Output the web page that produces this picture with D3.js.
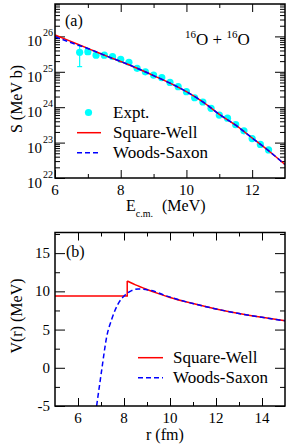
<!DOCTYPE html>
<html>
<head>
<meta charset="utf-8">
<script src="https://cdn.jsdelivr.net/npm/d3@7"></script>
<style>
    body { margin: 0; background: #fff; }
    svg text { font-family: "Liberation Serif", "DejaVu Serif", "Times New Roman", serif; fill: #000; }
</style>
</head>
<body>
<svg id="vis" width="287" height="445" font-family="Liberation Serif, DejaVu Serif, serif"></svg>
<script>
// panel (a): measured S-factor
const EXPT_E = [6.75, 7.0, 7.25, 7.5, 7.75, 8.0, 8.25, 8.5, 8.75, 9.0, 9.25, 9.5,
    9.75, 10.0, 10.25, 10.5, 10.75, 11.0, 11.25, 11.5, 11.75, 12.0, 12.25, 12.5]
const EXPT_S = [3.55e25, 3.7e25, 2.95e25, 2.95e25, 2.7e25, 2.25e25, 1.85e25, 1.25e25,
    1.0e25, 8.1e24, 6.8e24, 5.0e24, 3.8e24, 2.75e24, 1.85e24, 1.4e24, 9.3e23, 6.0e23,
    4.9e23, 3.2e23, 2.15e23, 1.3e23, 8.9e22, 6.2e22]
const EXPT_LO = [1.4e25, 3.1e25]
const EXPT_HI = [5.5e25, 4.4e25]

// panel (a): model curves
const CURVE_E = [6.0, 6.5, 7.0, 7.5, 8.0, 8.5, 9.0, 9.5, 10.0, 10.5, 11.0, 11.5, 12.0, 12.5, 13.0]
const SW_S = [1.1e26, 7.1e25, 4.6e25, 2.95e25, 1.95e25, 1.26e25, 7.8e24, 4.8e24,
    2.75e24, 1.41e24, 6.3e23, 3.1e23, 1.35e23, 5.9e22, 2.4e22]
const WS_S = [9.8e25, 6.6e25, 4.55e25, 2.95e25, 1.95e25, 1.26e25, 7.8e24, 4.8e24,
    2.75e24, 1.41e24, 6.3e23, 3.1e23, 1.35e23, 5.9e22, 2.4e22]

// panel (b): potentials
const SW_WELL_R = [5, 8.14, 8.14]
const SW_WELL_V = [9.4, 9.4, 11.35]
const SW_TAIL_R = [8.14, 8.5, 9, 9.5, 10, 11, 12, 13, 14, 15]
const SW_TAIL_V = [11.35, 10.85, 10.25, 9.7, 9.2, 8.4, 7.7, 7.1, 6.6, 6.15]
const WS_R = [6.81, 7.03, 7.25, 7.46, 7.75, 8.04, 8.33, 8.62, 9.2, 9.8, 10.5, 11, 12, 13, 14, 15]
const WS_V = [-5, -0.3, 4.1, 6.3, 8.4, 9.5, 10.1, 10.3, 10.1, 9.45, 8.8, 8.4, 7.7, 7.1, 6.6, 6.15]

// tick values
const E_TICKS = [6, 8, 10, 12]
const E_MINOR = [7, 9, 11]
const S_DECADES = [1e22, 1e23, 1e24, 1e25, 1e26]
const S_EXPONENTS = ['22', '23', '24', '25', '26']
const R_TICKS = [6, 8, 10, 12, 14]
const R_MINOR = [7, 9, 11, 13]
const V_TICKS = [-5, 0, 5, 10, 15]
const V_MINOR = [-2.5, 2.5, 7.5, 12.5, 17.5]

const RED = '#ff0000'
const BLUE = '#0000ff'
const CYAN = '#00ffff'
const SERIF = '"Liberation Serif", "DejaVu Serif", serif'

let svg = d3.select('#vis')

function innerTicks(g, axisFn, scale, vals, len, transform) {
    g.append('g')
        .attr('transform', transform)
        .call(axisFn(scale).tickValues(vals).tickSize(-len).tickFormat(''))
        .call(a => a.select('.domain').remove())
        .call(a => a.selectAll('line').attr('stroke', '#000').attr('stroke-width', 1))
}

function frame(g, x, y) {
    let [x0, x1] = x.range()
    let [y1, y0] = y.range()
    g.append('rect')
        .attr('x', x0).attr('y', y0)
        .attr('width', x1 - x0).attr('height', y1 - y0)
        .attr('fill', 'none')
        .attr('stroke', '#000')
        .attr('stroke-width', 1.5)
}

function renderTop(svg) {
    let x = d3.scaleLinear().domain([6, 13]).range([55, 285])
    let y = d3.scaleLog().domain([1e22, Math.pow(10, 26.915)]).range([178, 4])
    let g = svg.append('g').style('font-family', SERIF)

    // log minor ticks
    let minors = []
    for (let d of S_DECADES) {
        for (let k = 2; k <= 9; k++) {
            if (d * k <= y.domain()[1]) minors.push(d * k)
        }
    }

    innerTicks(g, d3.axisBottom, x, E_TICKS, 8, 'translate(0,178)')
    innerTicks(g, d3.axisBottom, x, E_MINOR, 4, 'translate(0,178)')
    innerTicks(g, d3.axisTop, x, E_TICKS, 8, 'translate(0,4)')
    innerTicks(g, d3.axisTop, x, E_MINOR, 4, 'translate(0,4)')
    innerTicks(g, d3.axisLeft, y, S_DECADES, 10, 'translate(55,0)')
    innerTicks(g, d3.axisLeft, y, minors, 5, 'translate(55,0)')
    innerTicks(g, d3.axisRight, y, S_DECADES, 10, 'translate(285,0)')
    innerTicks(g, d3.axisRight, y, minors, 5, 'translate(285,0)')

    // curves
    let sw = CURVE_E.map((e, i) => ({e: e, s: SW_S[i]}))
    let ws = CURVE_E.map((e, i) => ({e: e, s: WS_S[i]}))
    let line = d3.line()
        .x(d => x(d.e))
        .y(d => y(d.s))
        .curve(d3.curveMonotoneX)

    let clip = g.append('clipPath').attr('id', 'clip-a')
    clip.append('rect').attr('x', 55).attr('y', 4).attr('width', 230).attr('height', 174)

    let plot = g.append('g').attr('clip-path', 'url(#clip-a)')

    // error bars
    plot.selectAll('line.err')
        .data(EXPT_LO)
        .enter().append('line')
        .attr('x1', (d, i) => x(EXPT_E[i]))
        .attr('x2', (d, i) => x(EXPT_E[i]))
        .attr('y1', d => y(d))
        .attr('y2', (d, i) => y(EXPT_HI[i]))
        .attr('stroke', CYAN)
        .attr('stroke-width', 1.2)
    plot.selectAll('line.cap')
        .data(EXPT_LO.concat(EXPT_HI))
        .enter().append('line')
        .attr('x1', (d, i) => x(EXPT_E[i % 2]) - 2.5)
        .attr('x2', (d, i) => x(EXPT_E[i % 2]) + 2.5)
        .attr('y1', d => y(d))
        .attr('y2', d => y(d))
        .attr('stroke', CYAN)
        .attr('stroke-width', 1.2)

    plot.selectAll('circle')
        .data(EXPT_E)
        .enter().append('circle')
        .attr('cx', d => x(d))
        .attr('cy', (d, i) => y(EXPT_S[i]))
        .attr('r', 3.6)
        .attr('fill', CYAN)

    plot.append('path')
        .attr('d', line(sw))
        .attr('fill', 'none')
        .attr('stroke', RED)
        .attr('stroke-width', 1.5)
    plot.append('path')
        .attr('d', line(ws))
        .attr('fill', 'none')
        .attr('stroke', BLUE)
        .attr('stroke-width', 1.5)
        .attr('stroke-dasharray', '5,3')

    frame(g, x, y)

    // tick labels
    g.selectAll('text.xt')
        .data(E_TICKS)
        .enter().append('text')
        .attr('x', d => x(d))
        .attr('y', 195)
        .attr('text-anchor', 'middle')
        .style('font-size', '15px')
        .text(d => d)

    let yl = g.selectAll('g.yt')
        .data(S_DECADES)
        .enter().append('g')
        .attr('transform', d => `translate(0,${y(d)})`)
    yl.append('text')
        .attr('x', 42)
        .attr('y', 10)
        .attr('text-anchor', 'end')
        .style('font-size', '15px')
        .text('10')
    yl.append('text')
        .attr('x', 43)
        .attr('y', 0)
        .style('font-size', '10px')
        .text((d, i) => S_EXPONENTS[i])

    // axis titles
    let xt = g.append('text')
        .attr('x', 126)
        .attr('y', 211)
        .style('font-size', '16px')
    xt.append('tspan').text('E')
    xt.append('tspan').attr('dy', 6).style('font-size', '10px').text('c.m.')
    xt.append('tspan').attr('x', 162).attr('dy', -6).text('(MeV)')

    g.append('text')
        .attr('transform', 'translate(22,99) rotate(-90)')
        .attr('text-anchor', 'middle')
        .style('font-size', '16px')
        .text('S  (MeV b)')

    g.append('text')
        .attr('x', 65)
        .attr('y', 26)
        .style('font-size', '16px')
        .text('(a)')

    let title = g.append('text')
        .attr('x', 185)
        .attr('y', 45)
        .style('font-size', '17px')
    title.append('tspan').attr('dy', -7).style('font-size', '11px').text('16')
    title.append('tspan').attr('dy', 7).text('O + ')
    title.append('tspan').attr('dy', -7).style('font-size', '11px').text('16')
    title.append('tspan').attr('dy', 7).text('O')

    // legend
    g.append('circle').attr('cx', 88.5).attr('cy', 112.5).attr('r', 3.6).attr('fill', CYAN)
    g.append('line').attr('x1', 77).attr('x2', 101).attr('y1', 132.7).attr('y2', 132.7)
        .attr('stroke', RED).attr('stroke-width', 1.5)
    g.append('line').attr('x1', 77).attr('x2', 101).attr('y1', 152.7).attr('y2', 152.7)
        .attr('stroke', BLUE).attr('stroke-width', 1.5).attr('stroke-dasharray', '5,3')
    let labels = ['Expt.', 'Square-Well', 'Woods-Saxon']
    g.selectAll('text.leg')
        .data(labels)
        .enter().append('text')
        .attr('x', 113)
        .attr('y', (d, i) => 118 + i * 20)
        .style('font-size', '17px')
        .text(d => d)
}

function renderBottom(svg) {
    let x = d3.scaleLinear().domain([5, 15]).range([55, 285])
    let y = d3.scaleLinear().domain([-5, 17.7]).range([406, 232.5])
    let g = svg.append('g').style('font-family', SERIF)

    innerTicks(g, d3.axisBottom, x, R_TICKS, 8, 'translate(0,406)')
    innerTicks(g, d3.axisBottom, x, R_MINOR, 4, 'translate(0,406)')
    innerTicks(g, d3.axisTop, x, R_TICKS, 8, 'translate(0,232.5)')
    innerTicks(g, d3.axisTop, x, R_MINOR, 4, 'translate(0,232.5)')
    innerTicks(g, d3.axisLeft, y, V_TICKS, 10, 'translate(55,0)')
    innerTicks(g, d3.axisLeft, y, V_MINOR, 5, 'translate(55,0)')
    innerTicks(g, d3.axisRight, y, V_TICKS, 10, 'translate(285,0)')
    innerTicks(g, d3.axisRight, y, V_MINOR, 5, 'translate(285,0)')

    let clip = g.append('clipPath').attr('id', 'clip-b')
    clip.append('rect').attr('x', 55).attr('y', 232.5).attr('width', 230).attr('height', 173.5)
    let plot = g.append('g').attr('clip-path', 'url(#clip-b)')

    let linear = d3.line().x(d => x(d[0])).y(d => y(d[1]))
    let smooth = d3.line().x(d => x(d[0])).y(d => y(d[1])).curve(d3.curveMonotoneX)

    plot.append('path')
        .attr('d', linear(SW_WELL_R.map((r, i) => [r, SW_WELL_V[i]])))
        .attr('fill', 'none')
        .attr('stroke', RED)
        .attr('stroke-width', 1.5)
    plot.append('path')
        .attr('d', smooth(SW_TAIL_R.map((r, i) => [r, SW_TAIL_V[i]])))
        .attr('fill', 'none')
        .attr('stroke', RED)
        .attr('stroke-width', 1.5)
    plot.append('path')
        .attr('d', smooth(WS_R.map((r, i) => [r, WS_V[i]])))
        .attr('fill', 'none')
        .attr('stroke', BLUE)
        .attr('stroke-width', 1.5)
        .attr('stroke-dasharray', '5,3')

    frame(g, x, y)

    g.selectAll('text.xt')
        .data(R_TICKS)
        .enter().append('text')
        .attr('x', d => x(d))
        .attr('y', 423)
        .attr('text-anchor', 'middle')
        .style('font-size', '15px')
        .text(d => d)

    g.selectAll('text.yt')
        .data(V_TICKS)
        .enter().append('text')
        .attr('x', 50)
        .attr('y', d => y(d) + 5)
        .attr('text-anchor', 'end')
        .style('font-size', '15px')
        .text(d => d)

    g.append('text')
        .attr('x', 146)
        .attr('y', 440)
        .style('font-size', '16px')
        .text('r  (fm)')

    g.append('text')
        .attr('transform', 'translate(22,316) rotate(-90)')
        .attr('text-anchor', 'middle')
        .style('font-size', '16px')
        .text('V(r)  (MeV)')

    g.append('text')
        .attr('x', 66)
        .attr('y', 257)
        .style('font-size', '16px')
        .text('(b)')

    g.append('line').attr('x1', 138).attr('x2', 163).attr('y1', 357.7).attr('y2', 357.7)
        .attr('stroke', RED).attr('stroke-width', 1.5)
    g.append('line').attr('x1', 138).attr('x2', 163).attr('y1', 377.7).attr('y2', 377.7)
        .attr('stroke', BLUE).attr('stroke-width', 1.5).attr('stroke-dasharray', '5,3')
    g.selectAll('text.leg')
        .data(['Square-Well', 'Woods-Saxon'])
        .enter().append('text')
        .attr('x', 173)
        .attr('y', (d, i) => 363 + i * 20)
        .style('font-size', '17px')
        .text(d => d)
}

renderTop(svg)
renderBottom(svg)
</script>
</body>
</html>
